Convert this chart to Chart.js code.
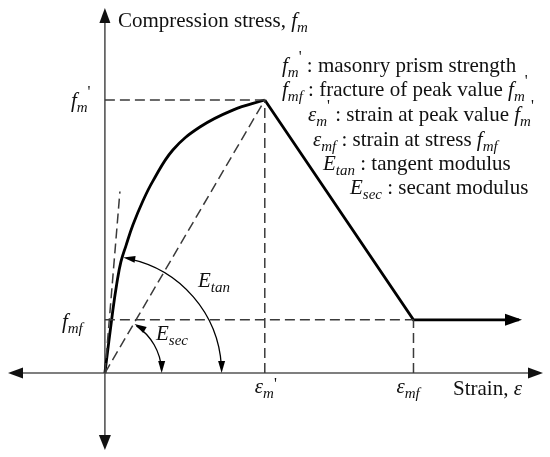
<!DOCTYPE html>
<html>
<head>
<meta charset="utf-8">
<script src="https://cdn.jsdelivr.net/npm/chart.js@4.4.1/dist/chart.umd.min.js"></script>
<style>
  html, body { margin: 0; padding: 0; background: #fff; }
  #wrap { width: 550px; height: 457px; }
</style>
</head>
<body>
<div id="wrap"><canvas id="chart" width="550" height="457"></canvas></div>
<script>
// normalised strain (eps / eps_m') and stress (f / f_m')
const riseStrain = [0, 0.05, 0.075, 0.1, 0.131, 0.175, 0.2375, 0.3, 0.425, 0.594, 0.8, 1.0];
const riseStress = [0, 0.231, 0.33, 0.407, 0.465, 0.542, 0.63, 0.703, 0.817, 0.901, 0.963, 1.0];
const fallStrain = [1.0, 1.93, 2.59];
const fallStress = [1.0, 0.195, 0.195];
const peakStrain = 1.0, peakStress = 1.0;
const fracStrain = 1.93, fracStress = 0.195;
const tangentTip = [0.094, 0.665];
const tanArcReach = 0.73;   // strain where E_tan arc meets the axis
const secArcReach = 0.355;  // strain where E_sec arc meets the axis
const axisX = [-0.606, 2.74];
const axisY = [-0.282, 1.337];

const pts = (xs, ys) => xs.map((x, i) => ({ x: x, y: ys[i] }));

const SERIF = "'Liberation Serif', 'Times New Roman', serif";
const DASH = "#3a3a3a";

function richText(ctx, x, y, parts) {
  let cx = x;
  parts.forEach(([t, k]) => {
    let font = "21px " + SERIF, dy = 0;
    if (k === "i") font = "italic 21px " + SERIF;
    if (k === "sub") { font = "italic 15px " + SERIF; dy = 5; }
    if (k === "pr") { font = "16px " + SERIF; dy = -10; }
    if (k === "prl") { font = "16px " + SERIF; dy = -4; }
    ctx.font = font;
    ctx.fillText(t, cx, y + dy);
    cx += ctx.measureText(t).width;
  });
}

function arrow(ctx, tx, ty, dx, dy, len, hw) {
  const n = Math.hypot(dx, dy); dx /= n; dy /= n;
  const bx = tx - dx * len, by = ty - dy * len;
  ctx.beginPath();
  ctx.moveTo(tx, ty);
  ctx.lineTo(bx - dy * hw, by + dx * hw);
  ctx.lineTo(bx + dy * hw, by - dx * hw);
  ctx.closePath();
  ctx.fill();
}

// first point along a pixel polyline at distance R from (ox, oy)
function hitRadius(poly, ox, oy, R) {
  for (let i = 1; i < poly.length; i++) {
    const [x0, y0] = poly[i - 1], [x1, y1] = poly[i];
    const d0 = Math.hypot(x0 - ox, y0 - oy), d1 = Math.hypot(x1 - ox, y1 - oy);
    if (d0 <= R && d1 >= R) {
      const t = (R - d0) / (d1 - d0);
      return [x0 + (x1 - x0) * t, y0 + (y1 - y0) * t];
    }
  }
  return poly[poly.length - 1];
}

function angleArrow(ctx, ox, oy, poly, R) {
  const [px, py] = hitRadius(poly, ox, oy, R);
  const a0 = Math.atan2(py - oy, px - ox);
  ctx.beginPath(); ctx.arc(ox, oy, R, a0 + 0.06, -0.06); ctx.stroke();
  arrow(ctx, ox + R, oy, 0, 1, 12, 3.5);
  arrow(ctx, px + 1, py, Math.sin(a0), -Math.cos(a0), 12, 3.5);
}

const decor = {
  id: "decor",
  beforeDatasetsDraw(chart) {
    const { ctx, scales: { x, y } } = chart;
    const ox = x.getPixelForValue(0), oy = y.getPixelForValue(0);
    const l = x.getPixelForValue(axisX[0]), r = x.getPixelForValue(axisX[1]);
    const t = y.getPixelForValue(axisY[1]), b = y.getPixelForValue(axisY[0]);
    ctx.save();
    ctx.strokeStyle = "#555"; ctx.fillStyle = "#111"; ctx.lineWidth = 1.6;
    ctx.beginPath();
    ctx.moveTo(l + 8, oy); ctx.lineTo(r - 8, oy);
    ctx.moveTo(ox, t + 8); ctx.lineTo(ox, b - 8);
    ctx.stroke();
    arrow(ctx, l, oy, -1, 0, 15, 5.5);
    arrow(ctx, r, oy, 1, 0, 15, 5.5);
    arrow(ctx, ox, t, 0, -1, 15, 5.5);
    arrow(ctx, ox, b, 0, 1, 15, 6);
    ctx.restore();
  },
  afterDatasetsDraw(chart) {
    const { ctx, scales: { x, y } } = chart;
    const ox = x.getPixelForValue(0), oy = y.getPixelForValue(0);
    ctx.save();
    ctx.strokeStyle = "#000"; ctx.fillStyle = "#000";

    // plateau arrow head
    const ex = x.getPixelForValue(fallStrain[2]), ey = y.getPixelForValue(fallStress[2]);
    arrow(ctx, ex + 3, ey, 1, 0, 17, 6);

    // angle arrows for E_tan and E_sec
    ctx.lineWidth = 1.3;
    const curvePx = riseStrain.map((v, i) => [x.getPixelForValue(v), y.getPixelForValue(riseStress[i])]);
    angleArrow(ctx, ox, oy, curvePx, x.getPixelForValue(tanArcReach) - ox);
    const secPx = [[ox, oy], [x.getPixelForValue(peakStrain), y.getPixelForValue(peakStress)]];
    angleArrow(ctx, ox, oy, secPx, x.getPixelForValue(secArcReach) - ox);

    // labels
    ctx.fillStyle = "#111";
    ctx.textBaseline = "alphabetic";
    const pk = x.getPixelForValue(peakStrain), fr = x.getPixelForValue(fracStrain);
    const fy1 = y.getPixelForValue(peakStress), fy2 = y.getPixelForValue(fracStress);
    richText(ctx, ox + 13, 27, [["Compression stress, ", "r"], ["f", "i"], ["m", "sub"]]);
    richText(ctx, ox - 34, fy1 + 7, [["f", "i"], ["m", "sub"], ["'", "pr"]]);
    richText(ctx, ox - 43, fy2 + 8, [["f", "i"], ["mf", "sub"]]);
    richText(ctx, pk - 10, oy + 20, [["ε", "i"], ["m", "sub"], ["'", "prl"]]);
    richText(ctx, fr - 17, oy + 20, [["ε", "i"], ["mf", "sub"]]);
    richText(ctx, 453, oy + 22, [["Strain, ", "r"], ["ε", "i"]]);
    richText(ctx, 198, 287, [["E", "i"], ["tan", "sub"]]);
    richText(ctx, 156, 340, [["E", "i"], ["sec", "sub"]]);

    richText(ctx, 282, 72, [["f", "i"], ["m", "sub"], ["'", "pr"], [" : masonry prism strength", "r"]]);
    richText(ctx, 282, 96, [["f", "i"], ["mf", "sub"], [" : fracture of peak value ", "r"], ["f", "i"], ["m", "sub"], ["'", "pr"]]);
    richText(ctx, 308, 121, [["ε", "i"], ["m", "sub"], ["'", "pr"], [" : strain at peak value ", "r"], ["f", "i"], ["m", "sub"], ["'", "pr"]]);
    richText(ctx, 313, 146, [["ε", "i"], ["mf", "sub"], [" : strain at stress ", "r"], ["f", "i"], ["mf", "sub"]]);
    richText(ctx, 323, 170, [["E", "i"], ["tan", "sub"], [" : tangent modulus", "r"]]);
    richText(ctx, 350, 194, [["E", "i"], ["sec", "sub"], [" : secant modulus", "r"]]);
    ctx.restore();
  }
};

const dashed = (data) => ({
  data: data, showLine: true, borderColor: DASH, borderWidth: 1.5,
  borderDash: [10, 5], pointRadius: 0, tension: 0
});

new Chart(document.getElementById("chart"), {
  type: "scatter",
  data: {
    datasets: [
      dashed([{ x: 0, y: peakStress }, { x: peakStrain, y: peakStress }]),
      dashed([{ x: peakStrain, y: 0 }, { x: peakStrain, y: peakStress }]),
      dashed([{ x: 0, y: fracStress }, { x: fracStrain, y: fracStress }]),
      dashed([{ x: fracStrain, y: 0 }, { x: fracStrain, y: fracStress }]),
      dashed([{ x: 0, y: 0 }, { x: peakStrain, y: peakStress }]),
      dashed([{ x: 0, y: 0 }, { x: tangentTip[0], y: tangentTip[1] }]),
      {
        data: pts(riseStrain, riseStress), showLine: true, borderColor: "#000",
        borderWidth: 2.8, pointRadius: 0, tension: 0.4
      },
      {
        data: pts(fallStrain, fallStress), showLine: true, borderColor: "#000",
        borderWidth: 2.8, pointRadius: 0, tension: 0
      }
    ]
  },
  options: {
    responsive: false,
    animation: false,
    layout: { padding: { left: 8, right: 7, top: 8, bottom: 7 } },
    plugins: { legend: { display: false }, tooltip: { enabled: false } },
    scales: {
      x: { type: "linear", min: axisX[0], max: axisX[1], display: false },
      y: { type: "linear", min: axisY[0], max: axisY[1], display: false }
    }
  },
  plugins: [decor]
});
</script>
</body>
</html>
